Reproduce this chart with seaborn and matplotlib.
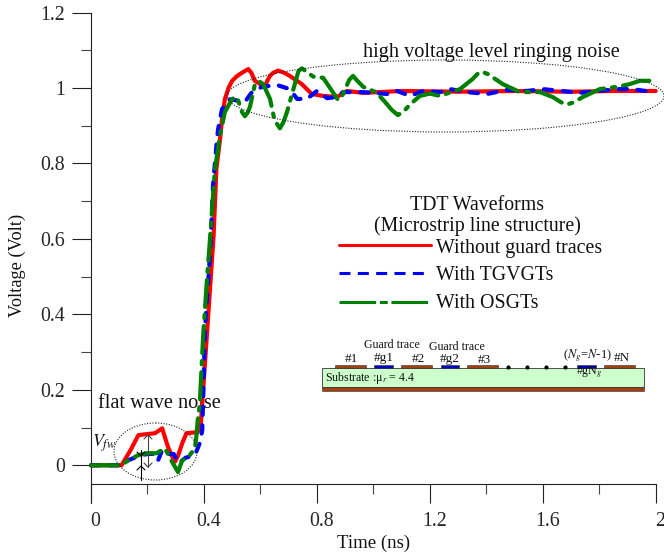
import matplotlib
matplotlib.use("Agg")
import matplotlib.pyplot as plt
import seaborn as sns
from matplotlib.lines import Line2D
from matplotlib.patches import Ellipse, Rectangle
from matplotlib.ticker import MultipleLocator, FuncFormatter
from matplotlib.transforms import Affine2D, ScaledTranslation

red_x = [0, .108, .14, .168, .227, .252, .272, .288, .298, .308, .323, .338, .378, .389, .414, .434, .444, .457, .464,
         .474, .487, .5, .515, .528, .545, .557, .568, .58, .6, .616, .625, .634, .645, .663, .685, .704, .747, .782,
         .822, .871, .906, .964, 1.1, 1.3, 1.5, 1.7, 1.85, 2.0]
red_y = [0, 0, .04, .08, .085, .098, .05, .022, .01, .025, .058, .085, .088, .11, .385, .606, .785, .864, .917,
         .97, 1.0, 1.019, 1.03, 1.037, 1.045, 1.05, 1.04, 1.019, 1.01, 1.004, 1.02, 1.032, 1.04, 1.046, 1.04, 1.032,
         1.01, .984, .979, .976, .992, .987, .992, .99, .992, .99, .992, .992]
blue_x = [0, .108, .131, .17, .2, .225, .237, .252, .27, .293, .31, .335, .368, .386, .394, .397, .404, .422, .432,
          .444, .45, .464, .492, .545, .57, .606, .658, .704, .73, .765, .8, .836, .871, .892, .963, 1.05, 1.084,
          1.13, 1.176, 1.236, 1.272, 1.332, 1.403, 1.473, 1.544, 1.6, 1.732, 1.863, 1.918, 1.99]
blue_y = [0, 0, .013, .025, .03, .03, .012, .04, .03, .03, .005, .02, .027, .06, .093, .17, .367, .564, .74,
          .846, .89, .944, .97, .963, .989, 1.003, 1.008, .997, .971, .971, .992, .973, .976, .989, .989, .984, .992,
          .979, .992, .989, .997, .989, .984, .995, .992, .997, .987, .997, .997, .989]
green_x = [0, .108, .131, .168, .197, .232, .262, .28, .308, .323, .35, .368, .373, .378, .385, .397, .409, .422,
           .439, .457, .474, .5, .517, .535, .545, .555, .563, .58, .595, .61, .634, .65, .669, .682, .694, .73, .735,
           .747, .76, .787, .822, .86, .875, .89, .915, .928, .942, .964, 1.009, 1.039, 1.065, 1.087, 1.11, 1.131,
           1.165, 1.2, 1.236, 1.307, 1.352, 1.37, 1.385, 1.405, 1.459, 1.519, 1.59, 1.635, 1.665, 1.685, 1.71, 1.742,
           1.802, 1.863, 1.907, 1.944, 2.0]
green_y = [0, 0, .013, .027, .032, .032, .045, .019, -.018, .013, .027, .045, .075, .12, .16, .34, .473, .606,
           .785, .875, .936, .971, .976, .936, .925, .935, .95, 1.008, 1.018, 1.01, .971, .915, .893, .91, .936, 1.032,
           1.045, 1.052, 1.045, 1.03, 1.027, .985, .968, .98, 1.022, 1.032, 1.02, 1.003, .989, .965, .942, .928, .94,
           .957, .979, .985, .979, .997, 1.024, 1.038, 1.043, 1.037, 1.01, .989, .989, .976, .962, .956, .962, .976,
           .997, 1.003, 1.01, 1.019, 1.019]
x_major = [0, 0.4, 0.8, 1.2, 1.6, 2]
y_major = [0, 0.2, 0.4, 0.6, 0.8, 1, 1.2]
legend_labels = ["Without guard traces", "With TGVGTs", "With OSGTs"]

RED, BLUE, GREEN = "#ff0000", "#0000ff", "#008000"
BLUE_DASH = (0, (2.0, 2.5))
GREEN_DASH = (0, (6.5, 1.9, 0.8, 1.9))

sns.set_theme(style="ticks")
plt.rcParams["font.family"] = ["Liberation Serif", "DejaVu Serif"]
plt.rcParams["mathtext.fontset"] = "stix"
plt.rcParams["text.color"] = "#111111"

fig = plt.figure(figsize=(6.64, 5.56), dpi=100, facecolor="white")
ax = fig.add_axes([91 / 664, 1 - 484 / 556, (655.7 - 91) / 664, (484 - 12.5) / 556])

for xs, ys, c, ls, z in [(red_x, red_y, RED, "-", 3),
                         (blue_x, blue_y, BLUE, BLUE_DASH, 4),
                         (green_x, green_y, GREEN, GREEN_DASH, 5)]:
    sns.lineplot(x=xs, y=ys, ax=ax, color=c, linewidth=3.0, linestyle=ls, sort=False,
                 estimator=None, errorbar=None, zorder=z, clip_on=False,
                 dash_capstyle="round", solid_capstyle="round", solid_joinstyle="round", dash_joinstyle="round")

ax.set_xlim(0, 2)
ax.set_ylim(-0.0496, 1.2)
ax.set_xlabel("")
ax.set_ylabel("")
ax.spines["top"].set_visible(False)
ax.spines["right"].set_visible(False)
for s in ("left", "bottom"):
    ax.spines[s].set_linewidth(0.8)
    ax.spines[s].set_color("#222222")
ax.set_xticks(x_major)
ax.set_yticks(y_major)
fmt = FuncFormatter(lambda v, p: f"{v:g}")
ax.xaxis.set_major_formatter(fmt)
ax.yaxis.set_major_formatter(fmt)
ax.xaxis.set_minor_locator(MultipleLocator(0.2))
ax.yaxis.set_minor_locator(MultipleLocator(0.1))
ax.tick_params(which="major", length=13.7, width=0.8, color="#222222", labelsize=14.3)
ax.tick_params(which="minor", length=7, width=0.8, color="#444444")
ax.tick_params(axis="x", which="major", pad=6.5)
ax.tick_params(axis="y", which="major", pad=5)
off = ScaledTranslation(4.5 / 100, 0, fig.dpi_scale_trans)
for lab in ax.get_xticklabels():
    lab.set_transform(lab.get_transform() + off)
    lab.set_clip_on(False)

# pixel coordinates, origin top-left of the image
px = Affine2D().scale(1, -1).translate(0, 556)


def T(x, y, s, size=14.5, ha="center", **kw):
    ax.text(x, y, s, transform=px, fontsize=size, ha=ha, va="center", clip_on=False, zorder=kw.pop("zorder", 2), **kw)


def L(xs, ys, **kw):
    kw.setdefault("color", "black")
    kw.setdefault("lw", 0.8)
    ax.add_line(Line2D(xs, ys, transform=px, clip_on=False, **kw))


def R(x0, y0, x1, y1, c):
    ax.add_patch(Rectangle((x0, y0), x1 - x0, y1 - y0, transform=px, facecolor=c, edgecolor="#333333",
                           lw=0.4, clip_on=False, zorder=6))


L([91, 91], [484, 503], color="#222222")

T(17, 265, "Voltage (Volt)", size=13.2, rotation=90)
T(373.5, 543, "Time (ns)", size=13.5)
T(491.5, 52, "high voltage level ringing noise", size=14.6)
T(159.5, 404, "flat wave noise", size=14.6)
T(477, 205, "TDT Waveforms", size=14.3)
T(477, 226, "(Microstrip line structure)", size=14.3)
T(104, 443, r"$V_{fw}$", size=13)

for y, lab in zip([248, 276, 303], legend_labels):
    T(436, y, lab, size=14.3, ha="left")
L([339, 431], [245, 245], color=RED, lw=2.2, zorder=6)
L([339, 427], [273, 273], color=BLUE, lw=2.2, zorder=6, linestyle=(0, (3.6, 2.4)))
L([339, 431], [302, 302], color=GREEN, lw=2.2, zorder=6, linestyle=(0, (12, 1.2, 2.6, 1.2)))

for (cx, cy, w, h) in [(155.5, 451.5, 83, 57), (445.5, 96, 437, 72)]:
    ax.add_patch(Ellipse((cx, cy), w, h, transform=px, fill=False, edgecolor="#222222", lw=0.8,
                         linestyle=(0, (1, 1.4)), clip_on=False, zorder=7))

# measuring arrows in the flat-wave region
L([148, 148], [435, 467], color="#444444", zorder=8)
for yy, d in [(435, 1), (467, -1)]:
    L([144, 148, 152], [yy + 4 * d, yy, yy + 4 * d], color="#444444", zorder=8)
L([141, 141], [450, 480], zorder=8)
for yy, d in [(456, -1), (466, 1)]:
    L([137, 141, 145], [yy + 4 * d, yy, yy + 4 * d], zorder=8)

# cross-section inset
ax.add_patch(Rectangle((322, 368), 322, 19, transform=px, facecolor="#ccffcc", edgecolor="#333333", lw=0.6,
                       clip_on=False, zorder=6))
R(322, 387, 644, 391, "#a0400f")
for x0, x1, c in [(335, 366, "#a0400f"), (374, 393, "#0000c0"), (401, 432, "#a0400f"), (441, 459, "#0000c0"),
                  (467, 498, "#a0400f"), (577, 596, "#0000c0"), (604, 635, "#a0400f")]:
    R(x0, 365, x1, 368, c)
for x in [508, 527, 546, 565]:
    L([x], [367], marker="o", markersize=2, color="black", zorder=7)
for x, y, s, fs in [(392, 345, "Guard trace", 8.6), (457, 347, "Guard trace", 8.6), (351, 359, "#1", 9.5),
                    (384, 358, "#g1", 9.5), (418, 359, "#2", 9.5), (450, 359, "#g2", 9.5), (484, 360, "#3", 9.5),
                    (622, 358, "#N", 9.5), (587, 356, r"($N_g$=$N$-1)", 9), (589, 372, r"#gN$_g$", 8.6)]:
    T(x, y, s, size=fs, zorder=8)
T(325, 378, r"Substrate :μ$_r$ = 4.4", size=8.6, ha="left", zorder=8)

fig.savefig("out.png", dpi=100)
